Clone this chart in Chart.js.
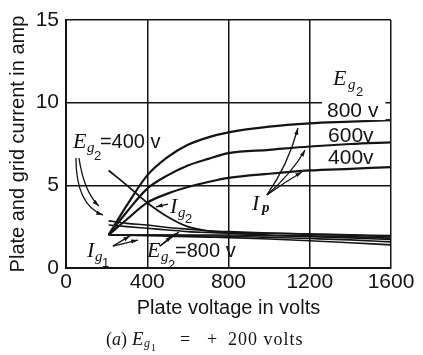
<!DOCTYPE html>
<html>
<head>
<meta charset="utf-8">
<script src="https://cdn.jsdelivr.net/npm/chart.js@4.4.0/dist/chart.umd.min.js"></script>
<style>
 html, body { margin: 0; padding: 0; background: #fff; }
</style>
</head>
<body>
<canvas id="tubeChart" width="423" height="355"></canvas>
<script>
// plate voltage (x) shared by every curve
var plateVolts = [210, 300, 400, 500, 600, 700, 800, 1000, 1200, 1400, 1600];

// plate current Ip for Eg2 = 800, 600, 400 v
var ip800 = [2.0, 3.8, 5.6, 6.7, 7.45, 7.9, 8.2, 8.55, 8.75, 8.85, 8.95];
var ip600 = [2.0, 3.4, 4.8, 5.6, 6.2, 6.6, 6.95, 7.15, 7.35, 7.5, 7.6];
var ip400 = [2.0, 2.95, 3.95, 4.5, 4.9, 5.2, 5.45, 5.7, 5.9, 6.0, 6.1];

// screen grid current Ig2
var ig2Steep = [5.9, 5.0, 3.95, 3.1, 2.5, 2.25, 2.15, 2.1, 2.05, 2.0, 1.95];
var ig2Mid = [2.85, 2.7, 2.6, 2.45, 2.35, 2.25, 2.2, 2.12, 2.05, 1.98, 1.9];
var ig2Low = [2.6, 2.5, 2.4, 2.3, 2.2, 2.15, 2.1, 2.0, 1.95, 1.9, 1.8];

// control grid current Ig1
var ig1a = [2.0, 2.0, 2.0, 2.0, 2.0, 2.0, 2.0, 1.95, 1.9, 1.82, 1.72];
var ig1b = [2.0, 2.0, 2.0, 1.98, 1.96, 1.94, 1.92, 1.85, 1.78, 1.7, 1.58];
var ig1c = [2.0, 1.98, 1.96, 1.93, 1.9, 1.87, 1.84, 1.75, 1.65, 1.53, 1.4];

var xTicks = [0, 400, 800, 1200, 1600];
var yTicks = [0, 5, 10, 15];

var ink = "#141414";
var sansFam = "'Liberation Sans', Arial, sans-serif";
var serifFam = "'Liberation Serif', 'Times New Roman', serif";

function toPoints(values) {
 return plateVolts.map(function (v, i) {
  return { x: v, y: values[i] };
 });
}

function curve(values, width) {
 return {
  data: toPoints(values),
  borderColor: ink,
  borderWidth: width,
  pointRadius: 0,
  fill: false,
  cubicInterpolationMode: "monotone",
 };
}

// annotation anchors, in data units (volts, amp)
var textNotes = [
 { at: [34, 7.26], parts: [["E", "italic 22px " + serifFam, 0, 0], ["g", "italic 15px " + serifFam, 14, 4], ["2", "13px " + sansFam, 21, 12], ["=400 v", "20px " + sansFam, 27, 0]] },
 { at: [1314, 11.07], parts: [["E", "italic 22px " + serifFam, 0, 0], ["g", "italic 15px " + serifFam, 15, 4], ["2", "13px " + sansFam, 23, 11]] },
 { at: [1285, 9.13], box: true, parts: [["800 v", "21px " + sansFam, 0, 0]] },
 { at: [1290, 7.62], parts: [["600v", "21px " + sansFam, 0, 0]] },
 { at: [1290, 6.29], parts: [["400v", "21px " + sansFam, 0, 0]] },
 { at: [916, 3.51], parts: [["I", "italic 22px " + serifFam, 0, 0], ["p", "italic bold 15px " + serifFam, 10, 2]] },
 { at: [512, 3.33], parts: [["I", "italic 22px " + serifFam, 0, 0], ["g", "italic 15px " + serifFam, 8, 4], ["2", "13px " + sansFam, 15, 10]] },
 { at: [103, 0.67], parts: [["I", "italic 22px " + serifFam, 0, 0], ["g", "italic 15px " + serifFam, 8, 4], ["1", "13px " + sansFam, 15, 10]] },
 { at: [399, 0.67], parts: [["E", "italic 22px " + serifFam, 0, 0], ["g", "italic 15px " + serifFam, 14, 4], ["2", "13px " + sansFam, 21, 12], ["=800 v", "20px " + sansFam, 28, 0]] },
];

// arrows: start, control, end (data units)
var arrowNotes = [
 [[989, 4.42], [1093, 6.23], [1142, 8.47]],
 [[989, 4.42], [1110, 5.7], [1177, 7.14]],
 [[989, 4.42], [1078, 5.2], [1162, 5.81]],
 [[49, 6.65], [49, 3.81], [182, 3.2]],
 [[64, 6.65], [89, 4.6], [162, 3.75]],
 [[502, 3.87], [472, 3.78], [443, 3.69]],
 [[231, 1.33], [273, 1.63], [315, 1.94]],
 [[231, 1.33], [292, 1.51], [354, 1.69]],
 [[463, 1.33], [492, 1.63], [522, 1.94]],
 [[463, 1.33], [510, 1.75], [556, 2.18]],
];

var notes = {
 id: "notes",
 afterDatasetsDraw: function (chart) {
  var ctx = chart.ctx;
  var xs = chart.scales.x;
  var ys = chart.scales.y;
  ctx.save();
  ctx.fillStyle = ink;
  ctx.strokeStyle = ink;
  ctx.textBaseline = "alphabetic";
  ctx.textAlign = "left";

  textNotes.forEach(function (n) {
   var x0 = xs.getPixelForValue(n.at[0]);
   var y0 = ys.getPixelForValue(n.at[1]);
   if (n.box) {
    ctx.font = n.parts[0][1];
    var w = ctx.measureText(n.parts[0][0]).width;
    ctx.fillStyle = "#fff";
    ctx.fillRect(x0 - 5, y0 - 17, w + 12, 20);
    ctx.fillStyle = ink;
   }
   n.parts.forEach(function (p) {
    ctx.font = p[1];
    ctx.fillText(p[0], x0 + p[2], y0 + p[3]);
   });
  });

  ctx.lineWidth = 1.3;
  arrowNotes.forEach(function (a) {
   var p0 = [xs.getPixelForValue(a[0][0]), ys.getPixelForValue(a[0][1])];
   var c = [xs.getPixelForValue(a[1][0]), ys.getPixelForValue(a[1][1])];
   var p1 = [xs.getPixelForValue(a[2][0]), ys.getPixelForValue(a[2][1])];
   ctx.beginPath();
   ctx.moveTo(p0[0], p0[1]);
   ctx.quadraticCurveTo(c[0], c[1], p1[0], p1[1]);
   ctx.stroke();
   var ang = Math.atan2(p1[1] - c[1], p1[0] - c[0]);
   ctx.beginPath();
   ctx.moveTo(p1[0], p1[1]);
   ctx.lineTo(p1[0] - 7 * Math.cos(ang - 0.3), p1[1] - 7 * Math.sin(ang - 0.3));
   ctx.lineTo(p1[0] - 7 * Math.cos(ang + 0.3), p1[1] - 7 * Math.sin(ang + 0.3));
   ctx.closePath();
   ctx.fill();
  });
  ctx.restore();
 },
 afterDraw: function (chart) {
  // caption under the plot
  var ctx = chart.ctx;
  var l = chart.chartArea.left;
  var b = chart.chartArea.bottom + 77;
  ctx.save();
  ctx.fillStyle = ink;
  ctx.textBaseline = "alphabetic";
  ctx.font = "18px " + serifFam;
  ctx.fillText("(", l + 40, b);
  ctx.font = "italic 18px " + serifFam;
  ctx.fillText("a", l + 46, b);
  ctx.font = "18px " + serifFam;
  ctx.fillText(")", l + 55, b);
  ctx.font = "italic 19px " + serifFam;
  ctx.fillText("E", l + 66, b);
  ctx.font = "italic 12px " + serifFam;
  ctx.fillText("g", l + 78, b + 2);
  ctx.font = "10px " + serifFam;
  ctx.fillText("1", l + 85, b + 6);
  ctx.font = "18px " + serifFam;
  ctx.fillText("=", l + 114, b);
  ctx.fillText("+", l + 141, b);
  ctx.letterSpacing = "1px";
  ctx.fillText("200 volts", l + 162, b);
  ctx.restore();
 },
};

var chartCanvas = document.getElementById("tubeChart");

new Chart(chartCanvas, {
 type: "line",
 data: {
  datasets: [
   curve(ip800, 2.2),
   curve(ip600, 2.2),
   curve(ip400, 2.2),
   curve(ig2Steep, 1.8),
   curve(ig2Mid, 1.6),
   curve(ig2Low, 1.6),
   curve(ig1a, 1.6),
   curve(ig1b, 1.6),
   curve(ig1c, 1.6),
  ],
 },
 options: {
  responsive: false,
  animation: false,
  devicePixelRatio: 1,
  layout: { padding: { top: 20, right: 32, bottom: 35, left: 0 } },
  plugins: {
   legend: { display: false },
   tooltip: { enabled: false },
  },
  scales: {
   x: {
    type: "linear",
    min: xTicks[0],
    max: xTicks[xTicks.length - 1],
    afterBuildTicks: function (scale) {
     scale.ticks = xTicks.map(function (v) {
      return { value: v };
     });
    },
    ticks: {
     color: ink,
     padding: 2,
     maxRotation: 0,
     font: { family: sansFam, size: 21 },
     callback: function (v) {
      return String(v);
     },
    },
    grid: { color: ink, lineWidth: 1.5, drawTicks: false },
    border: { color: ink, width: 2 },
    title: {
     display: true,
     text: "Plate voltage in volts",
     color: ink,
     font: { family: sansFam, size: 20 },
     padding: { top: 0, bottom: 0 },
    },
    afterFit: function (scale) {
     scale.height = 52;
    },
   },
   y: {
    type: "linear",
    min: yTicks[0],
    max: yTicks[yTicks.length - 1],
    afterBuildTicks: function (scale) {
     scale.ticks = yTicks.map(function (v) {
      return { value: v };
     });
    },
    ticks: {
     color: ink,
     padding: 7,
     font: { family: sansFam, size: 21 },
     callback: function (v) {
      return String(v);
     },
    },
    grid: { color: ink, lineWidth: 1.5, drawTicks: false },
    border: { color: ink, width: 2 },
    title: {
     display: true,
     text: "Plate and grid current in amp",
     color: ink,
     font: { family: sansFam, size: 20 },
     padding: { top: 6, bottom: 0 },
    },
    afterFit: function (scale) {
     scale.width = 66;
    },
   },
  },
 },
 plugins: [notes],
});
</script>
</body>
</html>
